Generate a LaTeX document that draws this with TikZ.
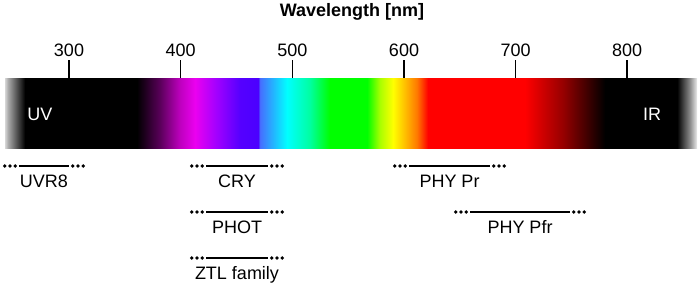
\documentclass[tikz,border=0pt]{standalone}
\usepackage{fontspec}
\setmainfont{Liberation Sans}
\usetikzlibrary{calc}
\definecolor{cLg}{RGB}{215,215,215}
\definecolor{cMg}{RGB}{170,170,170}
\definecolor{cBk}{RGB}{0,0,0}
\definecolor{cP1}{RGB}{90,0,90}
\definecolor{cP2}{RGB}{190,0,190}
\definecolor{cMa}{RGB}{235,0,240}
\definecolor{cVi}{RGB}{160,0,255}
\definecolor{cBv}{RGB}{85,0,255}
\definecolor{cBl}{RGB}{75,0,255}
\definecolor{cLb}{RGB}{70,110,255}
\definecolor{cCy}{RGB}{0,255,255}
\definecolor{cCg}{RGB}{0,255,160}
\definecolor{cGr}{RGB}{0,255,0}
\definecolor{cYg}{RGB}{170,255,0}
\definecolor{cYe}{RGB}{255,255,0}
\definecolor{cAm}{RGB}{255,190,0}
\definecolor{cOr}{RGB}{255,120,0}
\definecolor{cRe}{RGB}{255,0,0}
\definecolor{cDr}{RGB}{150,0,0}
\definecolor{cGy}{RGB}{140,140,140}
\definecolor{cWh}{RGB}{235,235,235}
\pgfdeclarehorizontalshading{spectrum}{100bp}{%
color(0bp)=(cLg); color(25bp)=(cLg); color(25.22bp)=(cMg);
color(26.45bp)=(cBk); color(34.54bp)=(cBk);
color(36.2bp)=(cP1); color(37.64bp)=(cP2); color(38.73bp)=(cMa);
color(40.32bp)=(cVi); color(41.98bp)=(cBv); color(43.28bp)=(cBl);
color(43.43bp)=(cLb); color(45.38bp)=(cCy); color(47.04bp)=(cCg);
color(48.48bp)=(cGr); color(51.16bp)=(cGr); color(52.1bp)=(cYg);
color(53.04bp)=(cYe); color(53.9bp)=(cAm); color(54.77bp)=(cOr);
color(55.56bp)=(cRe); color(62.57bp)=(cRe); color(65.32bp)=(cDr);
color(68.35bp)=(cBk); color(73.56bp)=(cBk); color(74.49bp)=(cGy);
color(75bp)=(cWh); color(100bp)=(cWh)}
\tikzset{
  lbl/.style={font=\fontsize{18}{21}\selectfont, inner sep=0pt, anchor=base},
  tickline/.style={line width=1.5pt, black},
  rangeline/.style={line width=1.4pt, black},
  dotmark/.style={fill=black, draw=none},
}
\newcommand\rng[5]{%
  \coordinate (#5a) at (#1,#3);
  \coordinate (#5b) at (#2,#3);
  \draw[rangeline] (#5a) -- (#5b);
  \foreach \d in {3.8,9,14.2}{
    \fill[dotmark] ($(#5a)+(-\d,0)$) circle (1.85pt);
    \fill[dotmark] ($(#5b)+(\d,0)$) circle (1.85pt);
  }
  \node[lbl] (#5) at ({(#1+#2)/2},#3+21) {#4};
}
\begin{document}
\begin{tikzpicture}[x=1pt,y=-1pt]
\useasboundingbox (0,0) rectangle (700,284);
\node[lbl, font=\bfseries\fontsize{18}{21}\selectfont] (title) at (352,16) {Wavelength [nm]};
\node[shading=spectrum, minimum width=692pt, minimum height=70pt, inner sep=0pt] (bar) at (351,113) {};
\foreach \w/\x in {300/69,400/180.6,500/292.3,600/404,700/515.6,800/627.2}{
  \node[lbl] (t\w) at (\x,56) {\w};
  \coordinate (k\w) at (\x,60);
  \draw[tickline] (k\w) -- (k\w |- bar.north);
}
\node[lbl, text=white] (uv) at (40,120) {UV};
\node[lbl, text=white] (ir) at (652,120) {IR};
\rng{19}{69}{166}{UVR8}{uvr}
\rng{206}{268}{166}{CRY}{cry}
\rng{206}{268}{212}{PHOT}{phot}
\rng{206}{268}{258}{ZTL family}{ztl}
\rng{409}{490}{166}{PHY Pr}{pr}
\rng{470}{570}{212}{PHY Pfr}{pfr}
\end{tikzpicture}
\end{document}
